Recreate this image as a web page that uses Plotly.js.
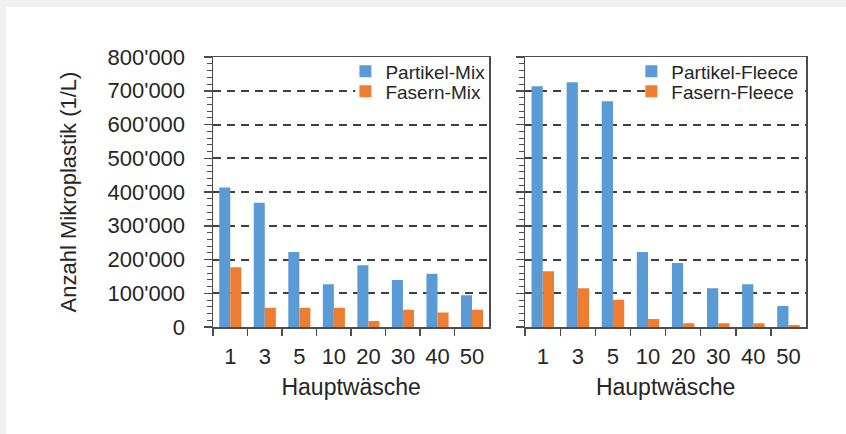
<!DOCTYPE html>
<html>
<head>
<meta charset="utf-8">
<script src="https://cdn.plot.ly/plotly-3.0.1.min.js"></script>
<style>
  html, body { margin: 0; padding: 0; background: #f0f0f0; width: 846px; height: 434px; overflow: hidden; }
  #chart { position: absolute; left: 6px; top: 7px; width: 840px; height: 427px; background: #ffffff; }
</style>
</head>
<body>
<div id="chart"></div>
<script>
// Number of main washes
const washes = ['1', '3', '5', '10', '20', '30', '40', '50'];

// Microplastic counts per litre, mixed textiles
const particlesMix = [413000, 368000, 222000, 127000, 183000, 139000, 158000, 94000];
const fibresMix    = [177000, 57000, 57000, 57000, 18000, 51000, 43000, 51000];

// Microplastic counts per litre, fleece textiles
const particlesFleece = [713000, 725000, 669000, 222000, 190000, 115000, 127000, 62000];
const fibresFleece    = [165000, 115000, 81000, 24000, 11000, 11000, 11000, 6000];

const yTicks = [0, 100000, 200000, 300000, 400000, 500000, 600000, 700000, 800000];

const BLUE = '#5b9bd5';
const ORANGE = '#ed7d31';
const INK = '#262626';
const FONT = 'Liberation Sans, Arial, sans-serif';

// one legend per entry so the rows can sit tightly stacked
const traces = [
  { type: 'bar', name: 'Partikel-Mix', x: washes, y: particlesMix, marker: { color: BLUE }, xaxis: 'x', yaxis: 'y', legend: 'legend' },
  { type: 'bar', name: 'Fasern-Mix', x: washes, y: fibresMix, marker: { color: ORANGE }, xaxis: 'x', yaxis: 'y', legend: 'legend2' },
  { type: 'bar', name: 'Partikel-Fleece', x: washes, y: particlesFleece, marker: { color: BLUE }, xaxis: 'x2', yaxis: 'y2', legend: 'legend3' },
  { type: 'bar', name: 'Fasern-Fleece', x: washes, y: fibresFleece, marker: { color: ORANGE }, xaxis: 'x2', yaxis: 'y2', legend: 'legend4' }
];

function xAxis(domain, anchor) {
  return {
    domain: domain, anchor: anchor, type: 'category',
    showline: true, linecolor: '#4d4d4d', linewidth: 1.5, mirror: true,
    ticks: 'outside', tickson: 'boundaries', ticklen: 7, tickcolor: '#4d4d4d', tickwidth: 1.5,
    ticklabelstandoff: 9,
    tickfont: { family: FONT, size: 22, color: INK },
    showgrid: false, zeroline: false,
    title: { text: 'Hauptwäsche', font: { family: FONT, size: 23, color: INK }, standoff: 11 }
  };
}

function yAxis(anchor, labels) {
  const ax = {
    anchor: anchor, range: [0, 800000], tickvals: yTicks, tickformat: ',.0f',
    showline: true, linecolor: '#4d4d4d', linewidth: 1.5, mirror: true,
    ticks: 'outside', ticklen: 8, tickcolor: '#4d4d4d', tickwidth: 1.5,
    minor: { dtick: 20000, tick0: 0, ticks: 'outside', ticklen: 5, tickcolor: '#4d4d4d', tickwidth: 1, showgrid: false },
    showticklabels: labels, ticklabelstandoff: 14,
    tickfont: { family: FONT, size: 22, color: INK },
    showgrid: true, gridcolor: '#404040', gridwidth: 2, griddash: '8px,6px',
    zeroline: false
  };
  if (labels) {
    ax.title = { text: 'Anzahl Mikroplastik (1/L)', font: { family: FONT, size: 22, color: INK }, standoff: 25 };
  }
  return ax;
}

const legendStyle = {
  bgcolor: 'rgba(0,0,0,0)', borderwidth: 0, xanchor: 'left', yanchor: 'middle',
  font: { family: FONT, size: 19, color: INK }, itemwidth: 30
};

// white patch behind the legend entries, hiding the grid there
function legendPatch(xref, yref, x0) {
  return {
    type: 'rect', layer: 'above', xref: xref, yref: yref,
    x0: x0, x1: 0.994, y0: 0.84, y1: 0.99,
    fillcolor: '#ffffff', line: { width: 0 }
  };
}

const layout = {
  width: 840, height: 427,
  margin: { l: 206.5, r: 40, t: 50.3, b: 107.3 },
  paper_bgcolor: '#ffffff', plot_bgcolor: '#ffffff',
  separators: ".'",
  barmode: 'group', bargap: 0.36, bargroupgap: 0,
  showlegend: true,
  xaxis: xAxis([0, 0.4659], 'y'),
  yaxis: yAxis('x', true),
  xaxis2: xAxis([0.5265, 1.0], 'y2'),
  yaxis2: yAxis('x2', false),
  legend:  Object.assign({ x: 0.2233, y: 0.9466 }, legendStyle),
  legend2: Object.assign({ x: 0.2233, y: 0.8723 }, legendStyle),
  legend3: Object.assign({ x: 0.7055, y: 0.9466 }, legendStyle),
  legend4: Object.assign({ x: 0.7055, y: 0.8723 }, legendStyle),
  shapes: [
    legendPatch('x domain', 'y domain', 0.515),
    legendPatch('x2 domain', 'y2 domain', 0.434)
  ]
};

Plotly.newPlot('chart', traces, layout, { staticPlot: true, displayModeBar: false });
</script>
</body>
</html>
